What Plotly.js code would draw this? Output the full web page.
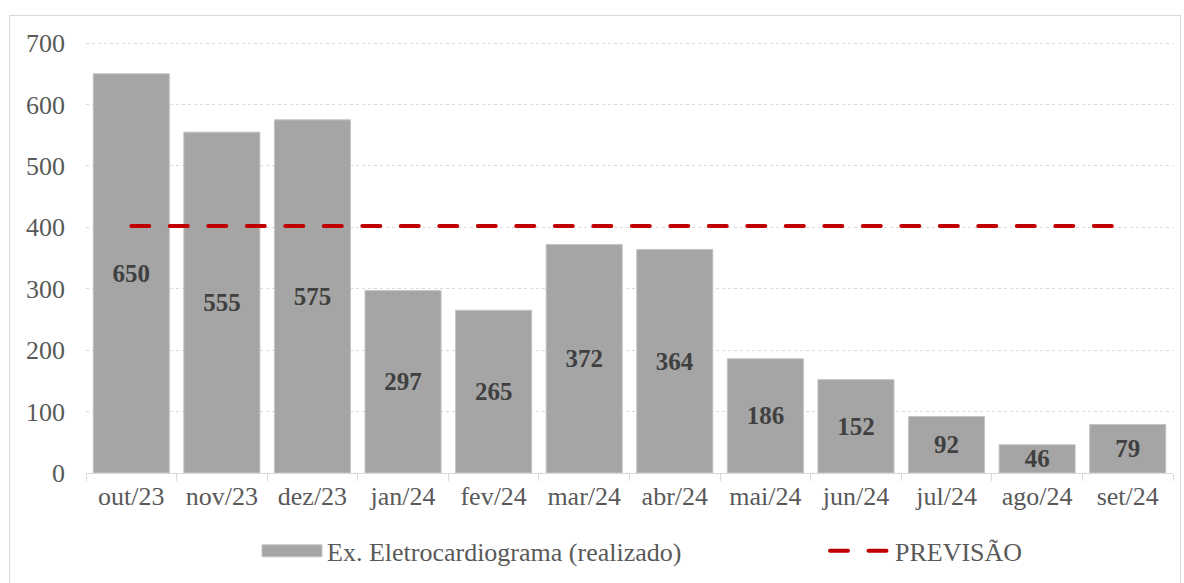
<!DOCTYPE html>
<html>
<head>
<meta charset="utf-8">
<script src="https://cdn.plot.ly/plotly-3.0.1.min.js"></script>
<style>
html,body{margin:0;padding:0;background:#fff;}
#frame{position:absolute;left:9px;top:15px;width:1172px;height:580px;border:1px solid #d9d9d9;box-sizing:border-box;}
#chart{position:absolute;left:0;top:0;width:1184px;height:583px;}
</style>
</head>
<body>
<div id="frame"></div>
<div id="chart"></div>
<script>
const categories = ["out/23","nov/23","dez/23","jan/24","fev/24","mar/24","abr/24","mai/24","jun/24","jul/24","ago/24","set/24"];
const realizado = [650,555,575,297,265,372,364,186,152,92,46,79];
const previsao = [402,402,402,402,402,402,402,402,402,402,402,402];
const serieBar = "Ex. Eletrocardiograma (realizado)";
const serieLine = "PREVISÃO";

const font = "Liberation Serif, Times New Roman, serif";

const traces = [
  {
    type: "bar",
    x: categories,
    y: realizado,
    name: serieBar,
    legend: "legend",
    marker: {color: "#a5a5a5", line: {color: "#c4c4c4", width: 1}},
    text: realizado.map(String),
    textposition: "inside",
    insidetextanchor: "middle",
    textangle: 0,
    textfont: {family: font, size: 25, color: "#404040", weight: "bold"},
    hoverinfo: "skip"
  },
  {
    type: "scatter",
    mode: "lines",
    x: categories,
    y: previsao,
    name: serieLine,
    legend: "legend2",
    line: {color: "#c00000", width: 4, dash: "18px,20.5px"},
    hoverinfo: "skip"
  }
];

const legendBase = {
  orientation: "h",
  xanchor: "left", xref: "container",
  y: 0.055, yanchor: "middle", yref: "container",
  font: {family: font, size: 26, color: "#595959"},
  itemwidth: 60,
  bgcolor: "rgba(0,0,0,0)"
};

const layout = {
  width: 1184,
  height: 583,
  paper_bgcolor: "rgba(0,0,0,0)",
  plot_bgcolor: "rgba(0,0,0,0)",
  margin: {l: 86, r: 11, t: 40, b: 110},
  font: {family: font, size: 26, color: "#595959"},
  bargap: 0.16,
  showlegend: true,
  uniformtext: {minsize: 25, mode: "show"},
  legend: Object.assign({}, legendBase, {x: 257 / 1184}),
  legend2: Object.assign({}, legendBase, {x: 825 / 1184}),
  xaxis: {
    type: "category",
    showgrid: false,
    showline: true,
    linecolor: "#d9d9d9",
    linewidth: 1,
    ticks: "outside",
    tickson: "boundaries",
    ticklen: 7,
    tickcolor: "#d9d9d9",
    tickfont: {family: font, size: 26, color: "#595959"},
    fixedrange: true
  },
  yaxis: {
    range: [0, 705],
    tickvals: [0, 100, 200, 300, 400, 500, 600, 700],
    showgrid: true,
    gridcolor: "#d9d9d9",
    griddash: "dot",
    gridwidth: 1,
    zeroline: false,
    showline: false,
    ticks: "",
    ticklabelstandoff: 20,
    tickfont: {family: font, size: 26, color: "#595959"},
    fixedrange: true
  }
};

function finishStyling(gd) {
  const leg = gd.querySelector(".legend .legendpoints path");
  if (leg) leg.setAttribute("d", "M30,6H-30V-6H30Z");
  gd.querySelectorAll(".scatterlayer .js-line, .legend2 .js-line, .legendlines path").forEach(function (p) {
    p.style.strokeLinecap = "round";
  });
}

Plotly.newPlot("chart", traces, layout, {displayModeBar: false, staticPlot: true}).then(function (gd) {
  finishStyling(gd);
});
</script>
</body>
</html>
